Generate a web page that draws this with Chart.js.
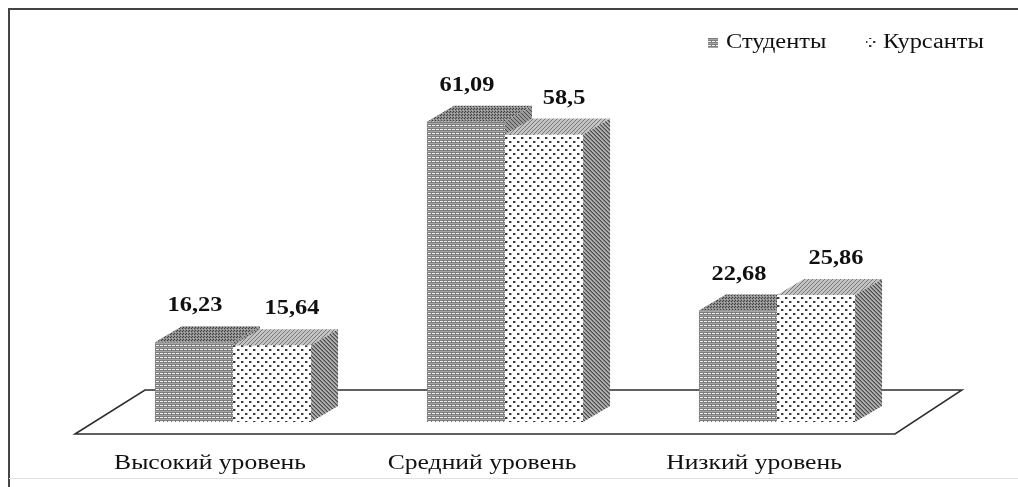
<!DOCTYPE html>
<html>
<head>
<meta charset="utf-8">
<script src="https://cdn.jsdelivr.net/npm/chart.js@4.4.1/dist/chart.umd.min.js"></script>
<style>
html, body { margin: 0; padding: 0; background: #fff; }
#wrap { position: relative; width: 1018px; height: 487px; }
</style>
</head>
<body>
<div id="wrap"><canvas id="chart" width="1018" height="487"></canvas></div>
<script>
var categories = ['Высокий уровень', 'Средний уровень', 'Низкий уровень'];
var seriesNames = ['Студенты', 'Курсанты'];
var students = [16.23, 61.09, 22.68];
var cadets = [15.64, 58.5, 25.86];

var DX = 27, DY = -16;       // depth of the fake 3d boxes
var STRETCH = 1.22;          // the source picture is stretched sideways
var SERIF = '"Liberation Serif", "Times New Roman", serif';

var canvas = document.getElementById('chart');
var ctx = canvas.getContext('2d');

function makePattern(w, h, draw) {
    var c = document.createElement('canvas');
    c.width = w; c.height = h;
    draw(c.getContext('2d'));
    return ctx.createPattern(c, 'repeat');
}

// Студенты: grey with white dashed horizontal lines
var frontA = makePattern(4, 4, function(g) {
    g.fillStyle = '#7c7c7c'; g.fillRect(0, 0, 4, 4);
    g.fillStyle = '#a6a6a6'; g.fillRect(0, 3, 4, 1);
    g.fillStyle = '#f2f2f2'; g.fillRect(0, 1, 3, 1);
});
var topA = makePattern(3, 3, function(g) {
    g.fillStyle = '#8e8e8e'; g.fillRect(0, 0, 3, 3);
    g.fillStyle = '#3e3e3e'; g.fillRect(0, 0, 1, 1); g.fillRect(2, 1, 1, 1);
    g.fillStyle = '#b4b4b4'; g.fillRect(1, 2, 1, 1);
});
var sideA = makePattern(4, 4, function(g) {
    g.fillStyle = '#9a9a9a'; g.fillRect(0, 0, 4, 4);
    g.fillStyle = '#4a4a4a';
    for (var i = 0; i < 4; i++) g.fillRect(i, i, 1, 1);
});
// Курсанты: white with staggered dark dots
var frontB = makePattern(8, 8, function(g) {
    g.fillStyle = '#ffffff'; g.fillRect(0, 0, 8, 8);
    g.fillStyle = '#3a3a3a';
    g.fillRect(1, 1, 2, 2); g.fillRect(5, 5, 2, 2);
    g.fillStyle = '#b0b0b0';
    g.fillRect(3, 1, 1, 2); g.fillRect(7, 5, 1, 2);
});
var topB = makePattern(4, 4, function(g) {
    g.fillStyle = '#c4c4c4'; g.fillRect(0, 0, 4, 4);
    g.fillStyle = '#777777';
    for (var i = 0; i < 4; i++) g.fillRect(i, 3 - i, 1, 1);
});
var sideB = makePattern(4, 4, function(g) {
    g.fillStyle = '#b0b0b0'; g.fillRect(0, 0, 4, 4);
    g.fillStyle = '#4a4a4a';
    for (var i = 0; i < 4; i++) g.fillRect(i, i, 1, 1);
    g.fillStyle = '#7a7a7a';
    for (var j = 0; j < 4; j++) g.fillRect(j, (j + 1) % 4, 1, 1);
});
var tops = [topA, topB];
var sides = [sideA, sideB];
var fronts = [frontA, frontB];

function stretchedText(text, x, y, font, align) {
    ctx.save();
    ctx.translate(x, y);
    ctx.scale(STRETCH, 1);
    ctx.font = font;
    ctx.fillStyle = '#111111';
    ctx.textAlign = align || 'center';
    ctx.textBaseline = 'middle';
    ctx.fillText(text, 0, 0);
    ctx.restore();
}

function formatValue(v) {
    return String(v).replace('.', ',');
}

// top and right faces of one dataset's boxes
function drawFaces(chart, idx) {
    var c = chart.ctx;
    c.save();
    chart.getDatasetMeta(idx).data.forEach(function(bar) {
        var p = bar.getProps(['x', 'y', 'base', 'width'], true);
        var l = p.x - p.width / 2, r = p.x + p.width / 2, t = p.y, b = p.base;
        c.fillStyle = tops[idx];
        c.beginPath();
        c.moveTo(l, t);
        c.lineTo(l + DX, t + DY);
        c.lineTo(r + DX, t + DY);
        c.lineTo(r, t);
        c.closePath();
        c.fill();
        c.fillStyle = sides[idx];
        c.beginPath();
        c.moveTo(r, t);
        c.lineTo(r + DX, t + DY);
        c.lineTo(r + DX, b + DY);
        c.lineTo(r, b);
        c.closePath();
        c.fill();
    });
    c.restore();
}

var boxPlugin = {
    id: 'box3d',
    beforeDraw: function(chart) {
        var c = chart.ctx;
        c.save();
        c.fillStyle = '#ffffff';
        c.fillRect(0, 0, chart.width, chart.height);
        // frame round the picture
        c.strokeStyle = '#444444';
        c.lineWidth = 2;
        c.beginPath();
        c.moveTo(9, chart.height);
        c.lineTo(9, 9);
        c.lineTo(chart.width, 9);
        c.stroke();
        c.strokeStyle = '#e2e2e2';
        c.lineWidth = 1;
        c.beginPath();
        c.moveTo(9, 478.5);
        c.lineTo(chart.width, 478.5);
        c.stroke();
        c.restore();
    },
    beforeDatasetsDraw: function(chart) {
        // the floor plane
        var a = chart.chartArea;
        var y0 = chart.scales.y.getPixelForValue(0);
        var c = chart.ctx;
        c.save();
        c.fillStyle = '#ffffff';
        c.strokeStyle = '#2e2e2e';
        c.lineWidth = 1.5;
        c.beginPath();
        c.moveTo(a.left - 22, y0 + 12);
        c.lineTo(a.left + 48, y0 - 32);
        c.lineTo(a.right + 49, y0 - 32);
        c.lineTo(a.right - 18, y0 + 12);
        c.closePath();
        c.fill();
        c.stroke();
        c.restore();
        // first series' hidden faces go behind the second series' fronts
        drawFaces(chart, 0);
    },
    afterDatasetDraw: function(chart, args) {
        if (args.index === 1) drawFaces(chart, 1);
    },
    afterDatasetsDraw: function(chart) {
        // value labels
        var shift = [1, 20];
        chart.data.datasets.forEach(function(ds, di) {
            var meta = chart.getDatasetMeta(di);
            meta.data.forEach(function(bar, i) {
                var p = bar.getProps(['x', 'y'], true);
                stretchedText(formatValue(ds.data[i]), p.x + shift[di], p.y - 36,
                    'bold 20px ' + SERIF);
            });
        });
        // category labels under the floor
        var xs = chart.scales.x;
        categories.forEach(function(cat, i) {
            stretchedText(cat, xs.getPixelForValue(i) - 23, 463, '21px ' + SERIF);
        });
        // legend
        var items = [[708, 726], [866, 883]];
        seriesNames.forEach(function(name, i) {
            ctx.save();
            ctx.fillStyle = fronts[i];
            ctx.fillRect(items[i][0], 38, 10, 10);
            ctx.restore();
            stretchedText(name, items[i][1], 43, '20px ' + SERIF, 'left');
        });
    }
};

new Chart(canvas, {
    type: 'bar',
    data: {
        labels: categories,
        datasets: [
            { label: seriesNames[0], data: students, backgroundColor: frontA },
            { label: seriesNames[1], data: cadets, backgroundColor: frontB }
        ]
    },
    options: {
        responsive: false,
        animation: false,
        devicePixelRatio: 1,
        layout: { padding: { left: 97, right: 105, top: 78, bottom: 65 } },
        datasets: { bar: { categoryPercentage: 0.574, barPercentage: 1, borderWidth: 0 } },
        scales: {
            x: { display: false },
            y: { display: false, min: 0, max: 70 }
        },
        plugins: {
            legend: { display: false },
            tooltip: { enabled: false }
        }
    },
    plugins: [boxPlugin]
});
</script>
</body>
</html>
